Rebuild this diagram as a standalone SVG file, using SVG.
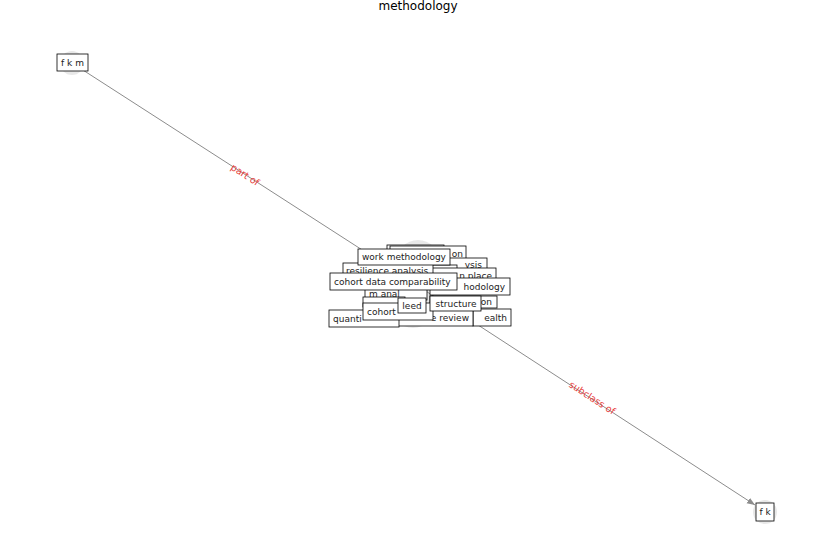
<svg xmlns="http://www.w3.org/2000/svg" width="837" height="559" viewBox="0 0 837 559">
<style>
text{font-family:"DejaVu Sans","Liberation Sans",sans-serif;font-size:9px;fill:#222}
.b{fill:#fff;stroke:#000;stroke-width:0.8}
.halo{fill:#e2e2e2;opacity:0.8}
.e{stroke:#8c8c8c;stroke-width:1;fill:none}
.el{fill:#e8403a;font-size:9.5px;text-anchor:middle}
.title{font-size:12px;fill:#000;text-anchor:middle}
</style>
<defs>
<marker id="ah" viewBox="0 0 10 10" refX="10" refY="5" markerWidth="8" markerHeight="8" orient="auto" markerUnits="userSpaceOnUse">
<path d="M0,1 L10,5 L0,9 z" fill="#8c8c8c"/>
</marker>
</defs>
<rect width="837" height="559" fill="#fff"/>
<text class="title" x="418" y="10">methodology</text>
<g id="halos">
<circle class="halo" cx="72" cy="63" r="12"/>
<circle class="halo" cx="765" cy="512" r="12"/>
<circle class="halo" cx="418" cy="262" r="22"/>
<circle class="halo" cx="413" cy="306" r="22"/>
</g>
<g id="connectors">
<line class="e" x1="72" y1="63" x2="412" y2="282"/>
<line class="e" x1="418" y1="286" x2="755" y2="505" marker-end="url(#ah)"/>
<text class="el" x="245" y="178" transform="rotate(33 245 175)">part of</text>
<text class="el" x="592" y="401" transform="rotate(33 592 398)">subclass of</text>
</g>
<g id="node-fkm"><rect class="b" x="57" y="54" width="31" height="17"/><text x="72.5" y="66" text-anchor="middle">f k m</text></g>
<g id="node-fk"><rect class="b" x="756" y="503" width="18" height="18"/><text x="765" y="515" text-anchor="middle">f k</text></g>
<g id="node-a"><rect class="b" x="387" y="245" width="57" height="16"/></g>
<g id="node-b"><rect class="b" x="390" y="246" width="76" height="16"/><text x="463" y="257" text-anchor="end">on</text></g>
<g id="node-c"><rect class="b" x="420" y="258" width="67" height="13"/><text x="482" y="268" text-anchor="end">ysis</text></g>
<g id="node-d"><rect class="b" x="410" y="265" width="47" height="15"/><text x="453" y="276" text-anchor="end">arch</text></g>
<g id="node-e"><rect class="b" x="420" y="268" width="76" height="15"/><text x="492" y="279" text-anchor="end">n place</text></g>
<g id="node-f"><rect class="b" x="430" y="278" width="80" height="17"/><text x="505" y="290" text-anchor="end">hodology</text></g>
<g id="node-g"><rect class="b" x="430" y="296" width="67" height="12"/><text x="492" y="305" text-anchor="end">on</text></g>
<g id="node-h"><rect class="b" x="473" y="309" width="38" height="17"/><text x="507" y="321" text-anchor="end">ealth</text></g>
<g id="node-i"><rect class="b" x="390" y="310" width="83" height="16"/><text x="469" y="321" text-anchor="end">e review</text></g>
<g id="node-j"><rect class="b" x="329" y="310" width="70" height="17"/><text x="333" y="322">quanti</text></g>
<g id="node-k"><rect class="b" x="365" y="287" width="62" height="13"/><text x="369" y="297">m anal</text></g>
<g id="node-l"><rect class="b" x="363" y="297" width="42" height="10"/></g>
<g id="node-resilience"><rect class="b" x="343" y="263" width="90" height="16"/><text x="346" y="274">resilience analysis</text></g>
<g id="node-cohortdata"><rect class="b" x="330" y="273" width="127" height="17"/><text x="334" y="285">cohort data comparability</text></g>
<g id="node-work"><rect class="b" x="358" y="249" width="92" height="16"/><text x="362" y="260">work methodology</text></g>
<g id="node-cohort"><rect class="b" x="363" y="303" width="70" height="17"/><text x="367" y="315">cohort</text></g>
<g id="node-structure"><rect class="b" x="430" y="296" width="51" height="15"/><text x="456" y="307" text-anchor="middle">structure</text></g>
<g id="node-leed"><rect class="b" x="398" y="298" width="28" height="15"/><text x="412" y="309" text-anchor="middle">leed</text></g>
</svg>
